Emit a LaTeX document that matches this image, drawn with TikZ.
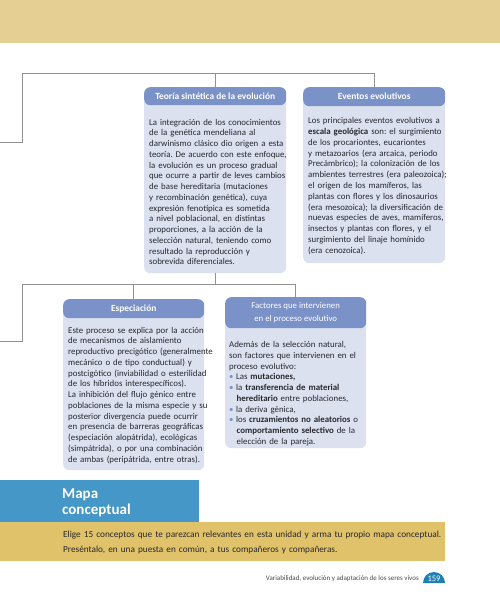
\documentclass[tikz,border=0pt]{standalone}
\usepackage{fontspec}
\setmainfont{Carlito}
\frenchspacing
\definecolor{headfill}{RGB}{122,146,200}
\definecolor{bodyfill}{RGB}{220,225,240}
\definecolor{topband}{RGB}{230,207,147}
\definecolor{mapablue}{RGB}{68,151,198}
\definecolor{yband}{RGB}{224,194,106}
\definecolor{badge}{RGB}{30,128,178}
\definecolor{txt}{RGB}{40,40,45}
\definecolor{conn}{RGB}{145,145,145}
\begin{document}
\begin{tikzpicture}[x=1pt,y=-1pt,
  head/.style={fill=headfill,rounded corners=6pt,anchor=north west,text=white,inner sep=0pt,align=center},
  bodybox/.style={fill=bodyfill,rounded corners=6pt,anchor=north west,inner sep=0pt},
  bodytext/.style={anchor=base west,inner sep=0pt,text width=160pt,align=left,text=txt,font=\fontsize{8.85}{10.75}\selectfont\frenchspacing},
  connector/.style={draw=conn,line width=0.9pt},
  hfont/.style={font=\fontsize{9.4}{11}\selectfont\bfseries}]
\useasboundingbox (0,0) rectangle (500,599);
% top band
\fill[topband] (0,0) rectangle (500,43);

% ---- Teoria
\node[bodybox,minimum width=142pt,minimum height=178pt] (teob) at (144,95) {};
\node[head,hfont,minimum width=142pt,minimum height=18pt] (teoh) at (144,87) {Teoría sintética de la evolución};
\node[bodytext] (teot) at (149,125) {La integración de los conocimientos\\
de la genética mendeliana al\\
darwinismo clásico dio origen a esta\\
teoría. De acuerdo con este enfoque,\\
la evolución es un proceso gradual\\
que ocurre a partir de leves cambios\\
de base hereditaria (mutaciones\\
y recombinación genética), cuya\\
expresión fenotípica es sometida\\
a nivel poblacional, en distintas\\
proporciones, a la acción de la\\
selección natural, teniendo como\\
resultado la reproducción y\\
sobrevida diferenciales.};

% ---- Eventos
\node[bodybox,minimum width=142pt,minimum height=168pt] (evb) at (303,95) {};
\node[head,hfont,minimum width=142pt,minimum height=19pt] (evh) at (303,87) {Eventos evolutivos};
\node[bodytext] (evt) at (308,124) {Los principales eventos evolutivos a\\
\textbf{escala geológica} son: el surgimiento\\
de los procariontes, eucariontes\\
y metazoarios (era arcaica, periodo\\
Precámbrico); la colonización de los\\
ambientes terrestres (era paleozoica);\\
el origen de los mamíferos, las\\
plantas con flores y los dinosaurios\\
(era mesozoica); la diversificación de\\
nuevas especies de aves, mamíferos,\\
insectos y plantas con flores, y el\\
surgimiento del linaje homínido\\
(era cenozoica).};

% ---- Especiacion
\node[bodybox,minimum width=141pt,minimum height=163pt] (espb) at (63,307) {};
\node[head,hfont,minimum width=141pt,minimum height=19pt] (esph) at (63,299) {Especiación};
\node[bodytext] (espt) at (68,333) {Este proceso se explica por la acción\\
de mecanismos de aislamiento\\
reproductivo precigótico (generalmente\\
mecánico o de tipo conductual) y\\
postcigótico (inviabilidad o esterilidad\\
de los híbridos interespecíficos).\\
La inhibición del flujo génico entre\\
poblaciones de la misma especie y su\\
posterior divergencia puede ocurrir\\
en presencia de barreras geográficas\\
(especiación alopátrida), ecológicas\\
(simpátrida), o por una combinación\\
de ambas (peripátrida, entre otras).};

% ---- Factores
\node[bodybox,minimum width=141pt,minimum height=143pt] (facb) at (225,305) {};
\node[head,font=\fontsize{8.8}{13.5}\selectfont,minimum width=141pt,minimum height=31pt] (fach) at (225,297) {Factores que intervienen\\en el proceso evolutivo};
\node[bodytext] (fact) at (229,347.5) {Además de la selección natural,\\
son factores que intervienen en el\\
proceso evolutivo:\\
{\color{headfill}\textbullet}\hspace{2.5pt}Las \textbf{mutaciones,}\\
{\color{headfill}\textbullet}\hspace{2.5pt}la \textbf{transferencia de material}\\
\hspace{7.5pt}\textbf{hereditario} entre poblaciones,\\
{\color{headfill}\textbullet}\hspace{2.5pt}la deriva génica,\\
{\color{headfill}\textbullet}\hspace{2.5pt}los \textbf{cruzamientos no aleatorios} o\\
\hspace{7.5pt}\textbf{comportamiento selectivo} de la\\
\hspace{7.5pt}elección de la pareja.};

% ---- connectors
\coordinate (ja) at (22,73);
\coordinate (ea) at (0,142);
\coordinate (jb) at (22,284);
\coordinate (eb) at (0,341);
\draw[connector] (ea) -| (ja) -| (evh.north);
\draw[connector] (teoh.north) -- (teoh.north |- ja);
\draw[connector] (eb) -| (jb) -| (fach.north);
\draw[connector] (teob.south) -- (teob.south |- jb);
\draw[connector] (esph.north) -- (esph.north |- jb);

% ---- Mapa conceptual
\fill[mapablue] (0,480) rectangle (199,522);
\node[anchor=base west,inner sep=0pt,text=white,text width=130pt,align=left,font=\fontsize{15}{16.5}\selectfont\bfseries] (mapa) at (62,498) {Mapa\\conceptual};
\fill[yband] (0,522) rectangle (445,561);
\node[anchor=base west,inner sep=0pt,text width=400pt,align=left,text=txt,font=\fontsize{9.25}{15}\selectfont\frenchspacing] (elige) at (63,537) {Elige 15 conceptos que te parezcan relevantes en esta unidad y arma tu propio mapa conceptual.\\
Preséntalo, en una puesta en común, a tus compañeros y compañeras.};

% ---- footer
\node[anchor=base east,inner sep=0pt,text=txt!85,font=\fontsize{7}{8}\selectfont] (foot) at (419,580.5) {Variabilidad, evolución y adaptación de los seres vivos};
\fill[badge] (423,583) arc[start angle=180,end angle=0,x radius=11pt,y radius=11pt] -- cycle;
\node[anchor=base,inner sep=0pt,text=white,font=\fontsize{8.5}{9}\selectfont] (pg) at (434,581) {159};
\end{tikzpicture}
\end{document}
